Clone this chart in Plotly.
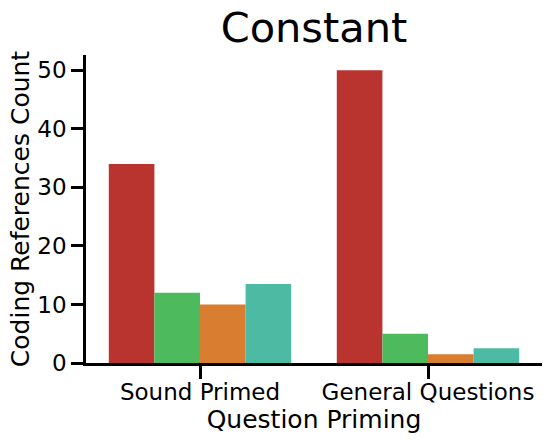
import plotly.graph_objects as go


categories = ["Sound Primed", "General Questions"]
series_names = ["Code 1", "Code 2", "Code 3", "Code 4"]
series_values = [
    [34, 50],
    [12, 5],
    [10, 1.5],
    [13.5, 2.5],
]
series_colors = ["#B9342F", "#4EBA5E", "#D97D31", "#4DBAA4"]
y_ticks = [0, 10, 20, 30, 40, 50]

FONT = "DejaVu Sans"

fig = go.Figure()
for name, vals, color in zip(series_names, series_values, series_colors):
    fig.add_trace(go.Bar(x=categories, y=vals, name=name,
                         marker=dict(color=color, line=dict(width=0))))

fig.update_layout(
    width=549,
    height=443,
    barmode="group",
    bargap=0.2,
    bargroupgap=0,
    showlegend=False,
    plot_bgcolor="white",
    paper_bgcolor="white",
    font=dict(family=FONT, color="black", size=20),
    margin=dict(l=86, r=7, t=55, b=80),
    margin_autoexpand=False,
    title=dict(text="Constant", x=0.5, xref="paper", xanchor="center",
               y=0.938, yref="container", yanchor="middle",
               font=dict(size=41.5, family=FONT, color="black")),
)

fig.update_xaxes(
    range=[-0.5, 1.5],
    showline=True, linecolor="black", linewidth=2.5,
    ticks="outside", ticklen=13, tickwidth=2.5, tickcolor="black",
    tickfont=dict(size=23), ticklabelstandoff=-6,
    title=dict(text="Question Priming", font=dict(size=25), standoff=4),
    showgrid=False, zeroline=False, automargin=False,
)
fig.update_yaxes(
    range=[0, 52.6],
    tickvals=y_ticks,
    showline=True, linecolor="black", linewidth=2.5,
    ticks="outside", ticklen=12, tickwidth=2.5, tickcolor="black",
    tickfont=dict(size=23),
    title=dict(text="Coding References Count", font=dict(size=25), standoff=1),
    showgrid=False, zeroline=False, automargin=False,
)

# drop the default page margin so the figure sits at the window corner
fig.write_html("out.html", config={"displayModeBar": False},
               post_script="document.body.style.margin='0';")
